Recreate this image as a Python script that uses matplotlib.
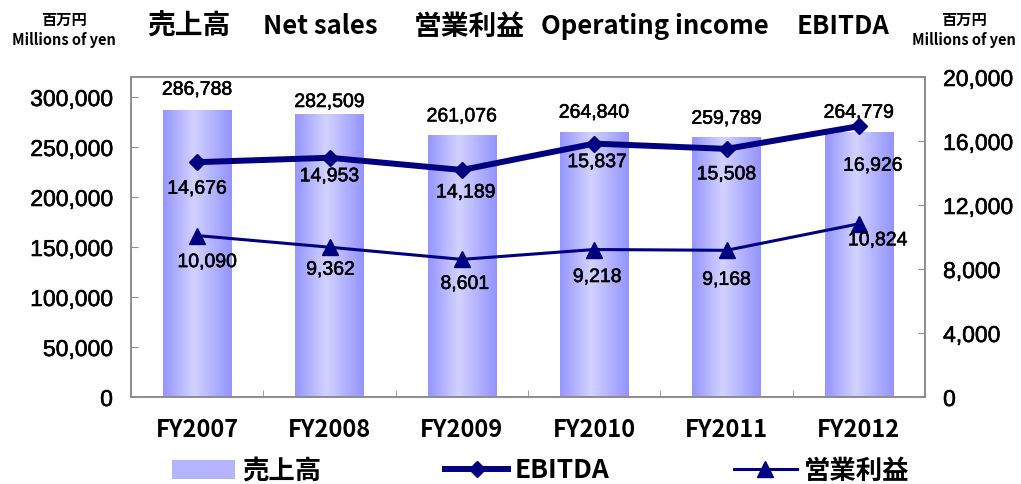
import numpy as np
import matplotlib
matplotlib.use('Agg')
import matplotlib.pyplot as plt
import matplotlib.patheffects as pe
from matplotlib.colors import LinearSegmentedColormap
from matplotlib.patches import Patch
from matplotlib.lines import Line2D

plt.rcParams['font.family'] = ['Liberation Sans', 'Noto Sans CJK JP']

years = ['FY2007', 'FY2008', 'FY2009', 'FY2010', 'FY2011', 'FY2012']
net_sales = [286788, 282509, 261076, 264840, 259789, 264779]
ebitda = [14676, 14953, 14189, 15837, 15508, 16926]
op_income = [10090, 9362, 8601, 9218, 9168, 10824]

left_ticks = [0, 50000, 100000, 150000, 200000, 250000, 300000]
right_ticks = [0, 4000, 8000, 12000, 16000, 20000]

# label offsets in pixels (dx, dy)
sales_off = [(0, 20), (0, 12), (0, 19), (0, 19), (0, 18), (0, 19)]
ebitda_off = [(0, -27), (0, -19), (4, -23), (3, -19), (0, -26), (14, -40)]
op_off = [(10, -27), (1, -23), (3, -25), (3, -28), (0, -30), (19, -17)]

navy = '#000080'
grey = '#8c8c8c'
jp = ['Noto Sans CJK JP', 'DejaVu Sans']
heavy = [pe.withStroke(linewidth=0.4, foreground='black')]

W, H = 1021, 484
fig = plt.figure(figsize=(W / 100, H / 100), dpi=100)
ax = fig.add_axes([131 / W, 1 - 397 / H, (925 - 131) / W, (397 - 77) / H])
ax2 = ax.twinx()

x = np.arange(len(years))
bars = ax.bar(x, net_sales, width=0.515, color='none', edgecolor='none', zorder=2)

# horizontal gradient on each bar
cmap = LinearSegmentedColormap.from_list(
    'bar', [(0, '#9696ff'), (0.45, '#d2d2ff'), (1, '#9494ff')])
grad = np.linspace(0, 1, 100).reshape(1, -1)
for b in bars:
    ax.imshow(grad, extent=[b.get_x(), b.get_x() + b.get_width(), 0, b.get_height()],
              aspect='auto', cmap=cmap, zorder=2, interpolation='bicubic')

for i, v in enumerate(net_sales):
    ax.annotate(f'{v:,}', (x[i], v), xytext=sales_off[i], textcoords='offset pixels',
                ha='center', va='center', fontsize=14, path_effects=heavy)

ax.set_xlim(-0.5, len(years) - 0.5)
ax.set_ylim(0, 320000)
ax.set_yticks(left_ticks)
ax.set_yticklabels([f'{t:,}' for t in left_ticks], fontsize=16.5, path_effects=heavy)
ax.set_xticks(x)
ax.set_xticklabels(years, fontsize=17, fontweight='bold', family=jp)
ax.tick_params(axis='x', length=0, pad=15)
ax.set_xticks(np.arange(len(years) - 1) + 0.5, minor=True)
ax.tick_params(axis='x', which='minor', direction='in', length=5, color=grey)
ax.tick_params(axis='y', direction='in', length=5, color=grey, pad=13)

ax2.plot(x, ebitda, color=navy, lw=4.3, marker='D', ms=8.5, mec=navy, mew=1, zorder=3)
ax2.plot(x, op_income, color=navy, lw=2.2, marker='^', ms=11, mec=navy, zorder=3)
for i, v in enumerate(ebitda):
    ax2.annotate(f'{v:,}', (x[i], v), xytext=ebitda_off[i], textcoords='offset pixels',
                 ha='center', va='center', fontsize=14, path_effects=heavy)
for i, v in enumerate(op_income):
    ax2.annotate(f'{v:,}', (x[i], v), xytext=op_off[i], textcoords='offset pixels',
                 ha='center', va='center', fontsize=14, path_effects=heavy)
ax2.set_ylim(0, 20000)
ax2.set_yticks(right_ticks)
ax2.set_yticklabels([f'{t:,}' for t in right_ticks], fontsize=16.5, path_effects=heavy)
ax2.tick_params(axis='y', direction='in', length=5, color=grey, pad=13)

for a in (ax, ax2):
    for s in a.spines.values():
        s.set_color(grey)
        s.set_linewidth(1.2)

# title pieces (text, left edge px, size)
title_parts = [('売上高', 147, 20), ('Net sales', 263, 18.5), ('営業利益', 414, 20),
               ('Operating income', 541, 18.5), ('EBITDA', 797, 18.5)]
for txt, px, sz in title_parts:
    fig.text(px / W, 1 - 27 / H, txt, fontsize=sz, fontweight='bold', family=jp,
             ha='left', va='center')

for cx in (64, 964):
    fig.text(cx / W, 1 - 20 / H, '百万円', fontsize=11, fontweight='bold', family=jp,
             ha='center', va='center')
    fig.text(cx / W, 1 - 40 / H, 'Millions of yen', fontsize=10.5, fontweight='bold',
             family=jp, ha='center', va='center')

handles = [Patch(facecolor='#b4b4ff', edgecolor='none'),
           Line2D([], [], color=navy, lw=4.3, marker='D', ms=8.5),
           Line2D([], [], color=navy, lw=2.2, marker='^', ms=11)]
labels = ['売上高', 'EBITDA', '営業利益']
fig.legend(handles, labels, loc='center left', bbox_to_anchor=(172 / W, 1 - 471 / H),
           ncol=3, frameon=False, handlelength=2.4, handletextpad=0.25,
           columnspacing=4.7, borderpad=0, borderaxespad=0,
           prop={'family': jp, 'weight': 'bold', 'size': 19})

fig.savefig('out.png', dpi=100)
